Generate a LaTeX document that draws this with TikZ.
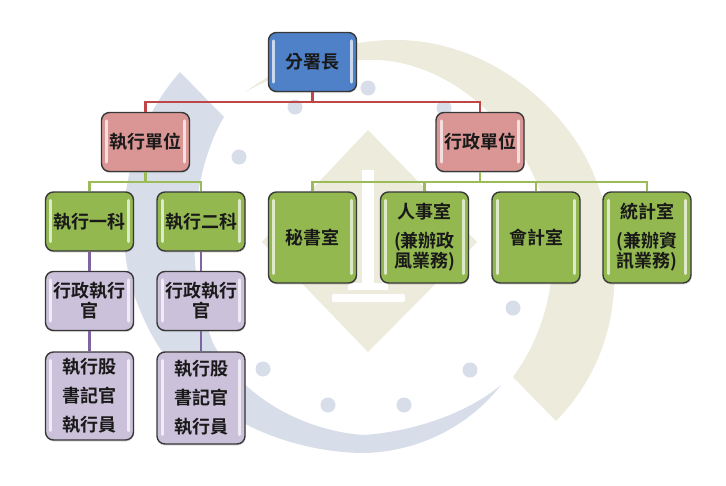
\documentclass[tikz,border=0pt]{standalone}
\usepackage{fontspec}
\usetikzlibrary{shadows}
\newfontfamily\cjk{Noto Sans CJK TC}[BoldFont={Noto Sans CJK TC Bold}]
\definecolor{bgblue}{RGB}{216,221,234}
\definecolor{bgtan}{RGB}{236,235,220}
\definecolor{redline}{RGB}{190,70,70}
\definecolor{greenline}{RGB}{155,187,89}
\definecolor{purpleline}{RGB}{128,100,162}
\definecolor{blueb}{RGB}{79,129,200}
\definecolor{redb}{RGB}{217,150,148}
\definecolor{greenb}{RGB}{147,184,80}
\definecolor{purpleb}{RGB}{204,193,218}
\tikzset{
  x=1pt,y=-1pt,
  orgbox/.style={draw=black!78,line width=1.4pt,rounded corners=8pt,minimum width=88pt,
    align=center,inner sep=0pt,font=\cjk\bfseries\fontsize{18}{20}\selectfont,text=black!90,
    drop shadow={shadow xshift=0.5pt,shadow yshift=-1.5pt,opacity=.25}},
  bluebox/.style={orgbox,fill=blueb,minimum height=59pt},
  redbox/.style={orgbox,fill=redb,minimum height=59pt},
  greenbox/.style={orgbox,fill=greenb},
  purplebox/.style={orgbox,fill=purpleb},
  redlink/.style={draw=redline,line width=2.6pt},
  greenlink/.style={draw=greenline,line width=2.6pt},
  purplelink/.style={draw=purpleline,line width=2.6pt},
  dot/.style={fill=bgblue,draw=none},
  shine/.style={line width=3pt,white,opacity=.7,line cap=round},
}
\newcommand{\gloss}[1]{%
  \draw[shine] ([shift={(6pt,10pt)}]#1.south west) -- ([shift={(6pt,-9pt)}]#1.north west);
  \draw[shine] ([shift={(-6pt,10pt)}]#1.south east) -- ([shift={(-6pt,-9pt)}]#1.north east);
}
\begin{document}
\begin{tikzpicture}
\useasboundingbox (0,0) rectangle (726,485);
\fill[white] (0,0) rectangle (726,485);
% watermark: tan ring and diamond
\fill[bgtan] (245,92)
  .. controls (290,60) and (340,40) .. (396,40)
  .. controls (490,40) and (570,110) .. (596,180)
  .. controls (622,245) and (630,345) .. (556,421)
  -- (513,377)
  .. controls (555,320) and (565,240) .. (536,181)
  .. controls (510,120) and (450,65) .. (380,60)
  .. controls (330,58) and (285,70) .. (245,92) -- cycle;
\fill[bgtan] (368,130) -- (477,242) -- (368,352) -- (262,242) -- cycle;
\fill[white,rounded corners=2pt] (332,294) rectangle (405,302);
\fill[white] (362,170) rectangle (374,290);
\fill[white] (348,283) rectangle (388,290);
% watermark: blue arc and dots
\fill[bgblue] (180,72) -- (224,117)
  .. controls (195,165) and (180,260) .. (213,343)
  .. controls (240,395) and (300,430) .. (363,435)
  .. controls (410,432) and (465,415) .. (501,385)
  .. controls (470,425) and (420,452) .. (363,453)
  .. controls (280,452) and (180,410) .. (140,310)
  .. controls (110,240) and (120,140) .. (180,72) -- cycle;
\foreach \p in {(239,157),(295,107),(368,88),(444,108),(263,369),(328,405),(404,405),(470,370),(513,308)}
  \fill[dot] \p circle (7.5);

% boxes
\node[bluebox]   (chief)  at (312.5,62)   {分署長};
\node[redbox]    (exec)   at (145.5,142) {執行單位};
\node[redbox]    (admin)  at (480,142) {行政單位};
\node[greenbox,minimum height=59pt] (k1) at (89.5,221.5) {執行一科};
\node[greenbox,minimum height=59pt] (k2) at (201,221.5) {執行二科};
\node[greenbox,minimum height=91pt] (sec) at (312.5,237.5) {秘書室};
\node[greenbox,minimum height=91pt] (hr)  at (424.5,237.5) {人事室\\[9pt](兼辦政\\風業務)};
\node[greenbox,minimum height=91pt] (acc) at (536,237.5) {會計室};
\node[greenbox,minimum height=91pt] (stat) at (647,237.5) {統計室\\[9pt](兼辦資\\訊業務)};
\node[purplebox,minimum height=59pt] (o1) at (89.5,301) {行政執行\\官};
\node[purplebox,minimum height=59pt] (o2) at (201,301) {行政執行\\官};
\node[purplebox,minimum height=88pt] (p1) at (89.5,396) {執行股\\[9pt]書記官\\[9pt]執行員};
\node[purplebox,minimum height=92pt] (p2) at (201,398) {執行股\\[9pt]書記官\\[9pt]執行員};
\foreach \n in {chief,exec,admin,k1,k2,sec,hr,acc,stat,o1,o2,p1,p2} {\gloss{\n}}

% connectors
\coordinate (rb) at (312.5,102);
\draw[redlink] (chief.south) -- (rb);
\draw[redlink] (exec.north) |- (rb) -| (admin.north);
\coordinate (gl) at (145.5,182);
\draw[greenlink] (exec.south) -- (gl);
\draw[greenlink] (k1.north) |- (gl) -| (k2.north);
\coordinate (gr) at (480,182);
\draw[greenlink] (admin.south) -- (gr);
\draw[greenlink] (sec.north) |- (gr) -| (stat.north);
\draw[greenlink] (hr.north) -- ++(0,-10);
\draw[greenlink] (acc.north) -- ++(0,-10);
\draw[purplelink] (k1) -- (o1);
\draw[purplelink] (o1) -- (p1);
\draw[purplelink] (k2) -- (o2);
\draw[purplelink] (o2) -- (p2);
\end{tikzpicture}
\end{document}
